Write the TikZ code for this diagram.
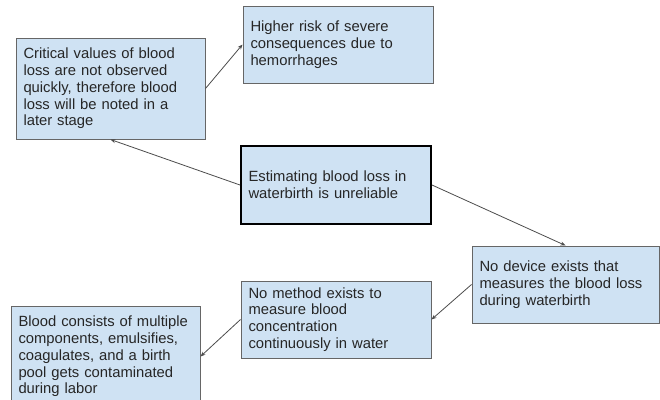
\documentclass[tikz,border=0pt]{standalone}
\usepackage{fontspec}
\setmainfont{Liberation Sans}
\usepackage{tikz}
\usetikzlibrary{positioning,arrows.meta}
\definecolor{boxblue}{HTML}{CFE2F3}
\definecolor{boxline}{HTML}{666666}
\tikzset{box/.style = {draw=boxline,fill=boxblue,line width=1pt,align=left,inner xsep=7.5pt,
                       text=black!85,font=\fontsize{14.8}{16.75}\selectfont},
         arr/.style = {draw=black!70,line width=0.8pt,-{Stealth[length=5pt,width=4pt]}}}

\begin{document}
\begin{tikzpicture}[x=1pt,y=-1pt]
                    \useasboundingbox (0,0) rectangle (660,399);
                    \node [box,minimum width=189pt,minimum height=101pt,text width=174pt] (crit) at (110.5,88.5)
                        {Critical values of blood\\ loss are not observed\\ quickly, therefore blood\\ loss will be noted in a\\ later stage};
                    \node [box,minimum width=190pt,minimum height=77pt,text width=175pt] (risk) at (338,44.5)
                        {Higher risk of severe\\ consequences due to\\ hemorrhages};
                    \node [box,draw=black,line width=2pt,minimum width=190pt,minimum height=78pt,text width=175pt] (est) at (336,185)
                        {Estimating blood loss in\\ waterbirth is unreliable};
                    \node [box,minimum width=187pt,minimum height=77pt,text width=172pt] (dev) at (565.5,284.5)
                        {No device exists that\\ measures the blood loss\\ during waterbirth};
                    \node [box,minimum width=190pt,minimum height=77pt,text width=175pt] (meth) at (336,319.5)
                        {No method exists to\\ measure blood\\ concentration\\ continuously in water};
                    \node [box,minimum width=189pt,minimum height=101pt,text width=174pt] (blood) at (105.5,356.5)
                        {Blood consists of multiple\\ components, emulsifies,\\ coagulates, and a birth\\ pool gets contaminated\\ during labor};

                    \draw [arr] (crit.east) -- (risk.west);
                    \draw [arr] (est.west) -- (crit.south);
                    \draw [arr] (est.east) -- (dev.north);
                    \draw [arr] (dev.west) -- (meth.east);
                    \draw [arr] (meth.west) -- (blood.east);
                \end{tikzpicture}
\end{document}
